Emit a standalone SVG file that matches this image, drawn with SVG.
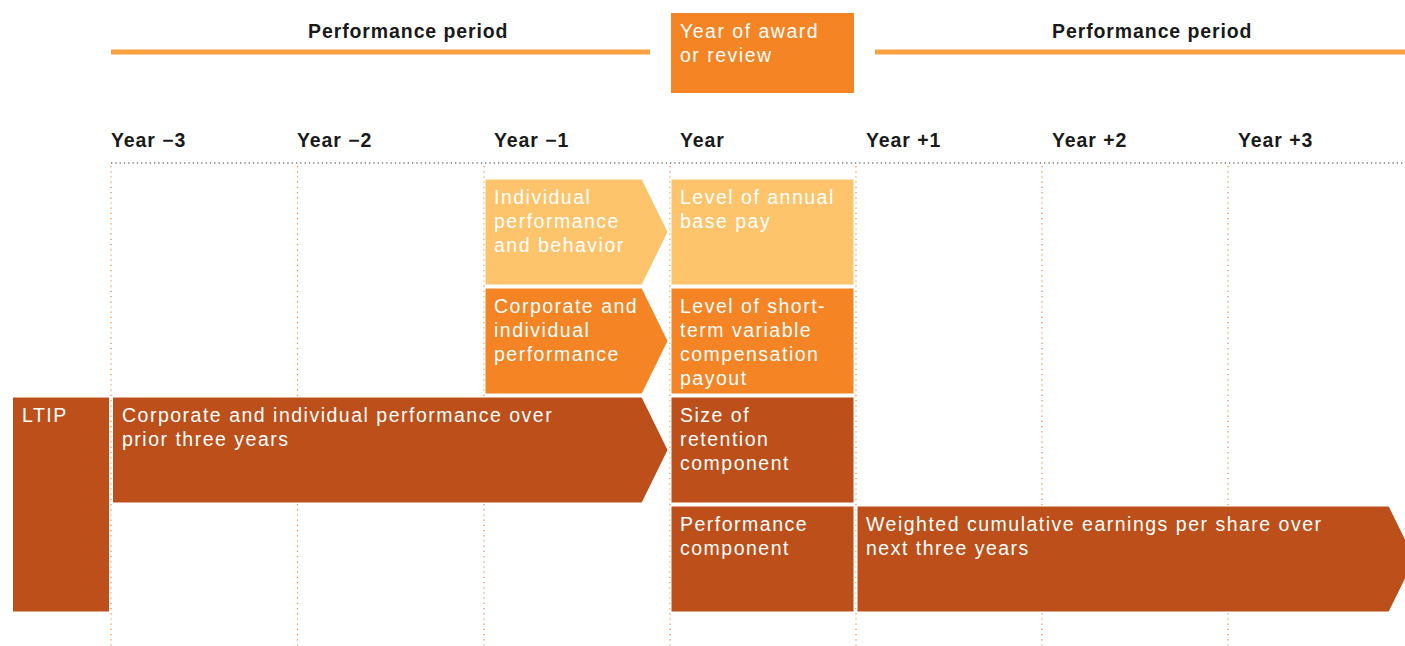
<svg xmlns="http://www.w3.org/2000/svg" width="1405" height="646" viewBox="0 0 1405 646">
<style>
  .lbl { font-family: "Liberation Sans", Arial, sans-serif; font-size: 19.5px; font-weight: bold; fill: #1a1a1a; letter-spacing: 0.9px; }
  .wt { font-family: "Liberation Sans", Arial, sans-serif; font-size: 19.5px; fill: #ffffff; letter-spacing: 1.5px; }
  .vgrid { stroke: #F2832C; stroke-width: 1.2; stroke-dasharray: 1.2 4; fill: none; }
  .hgrid { stroke: #7a7a7a; stroke-width: 1.3; stroke-dasharray: 1.3 3; fill: none; }
  .band { fill: #F9A03F; }
  .light { fill: #FEC46B; stroke: #ffffff; stroke-width: 1; }
  .mid { fill: #F48424; stroke: #ffffff; stroke-width: 1; }
  .dark { fill: #BD501A; stroke: #ffffff; stroke-width: 1; }
</style>

<g id="grid">
  <line class="hgrid" x1="111" y1="163" x2="1405" y2="163"/>
  <line class="vgrid" x1="111" y1="166" x2="111" y2="646"/>
  <line class="vgrid" x1="297.5" y1="166" x2="297.5" y2="646"/>
  <line class="vgrid" x1="484" y1="166" x2="484" y2="646"/>
  <line class="vgrid" x1="670" y1="166" x2="670" y2="646"/>
  <line class="vgrid" x1="856" y1="166" x2="856" y2="646"/>
  <line class="vgrid" x1="1042" y1="166" x2="1042" y2="646"/>
  <line class="vgrid" x1="1228" y1="166" x2="1228" y2="646"/>
</g>

<g id="header">
  <rect class="band" x="111" y="49.5" width="539" height="5"/>
  <rect class="band" x="875" y="49.5" width="530" height="5"/>
  <text class="lbl" x="308" y="38">Performance period</text>
  <text class="lbl" x="1052" y="38">Performance period</text>
  <g id="award-box">
    <rect x="671" y="13" width="183" height="80" fill="#F48424"/>
    <text class="wt" x="680" y="38">Year of award</text>
    <text class="wt" x="680" y="62">or review</text>
  </g>
</g>

<g id="years">
  <text class="lbl" x="111" y="147">Year −3</text>
  <text class="lbl" x="297" y="147">Year −2</text>
  <text class="lbl" x="494" y="147">Year −1</text>
  <text class="lbl" x="680" y="147">Year</text>
  <text class="lbl" x="866" y="147">Year +1</text>
  <text class="lbl" x="1052" y="147">Year +2</text>
  <text class="lbl" x="1238" y="147">Year +3</text>
</g>

<g id="row1-arrow">
  <polygon class="light" points="485,179 642,179 668,232 642,285 485,285"/>
  <text class="wt" x="494" y="204">Individual</text>
  <text class="wt" x="494" y="228">performance</text>
  <text class="wt" x="494" y="252">and behavior</text>
</g>
<g id="row1-box">
  <rect class="light" x="671" y="179" width="183" height="106"/>
  <text class="wt" x="680" y="204">Level of annual</text>
  <text class="wt" x="680" y="228">base pay</text>
</g>

<g id="row2-arrow">
  <polygon class="mid" points="485,288 642,288 668,341 642,394 485,394"/>
  <text class="wt" x="494" y="313">Corporate and</text>
  <text class="wt" x="494" y="337">individual</text>
  <text class="wt" x="494" y="361">performance</text>
</g>
<g id="row2-box">
  <rect class="mid" x="671" y="288" width="183" height="106"/>
  <text class="wt" x="680" y="313">Level of short-</text>
  <text class="wt" x="680" y="337">term variable</text>
  <text class="wt" x="680" y="361">compensation</text>
  <text class="wt" x="680" y="385">payout</text>
</g>

<g id="ltip">
  <rect class="dark" x="12.5" y="397" width="97" height="215"/>
  <text class="wt" x="22" y="422">LTIP</text>
</g>

<g id="row3-arrow">
  <polygon class="dark" points="112.5,397 642,397 668,450 642,503 112.5,503"/>
  <text class="wt" x="122" y="422">Corporate and individual performance over</text>
  <text class="wt" x="122" y="446">prior three years</text>
</g>
<g id="row3-box">
  <rect class="dark" x="671" y="397" width="183" height="106"/>
  <text class="wt" x="680" y="422">Size of</text>
  <text class="wt" x="680" y="446">retention</text>
  <text class="wt" x="680" y="470">component</text>
</g>

<g id="row4-box">
  <rect class="dark" x="671" y="506" width="183" height="106"/>
  <text class="wt" x="680" y="531">Performance</text>
  <text class="wt" x="680" y="555">component</text>
</g>
<g id="row4-arrow">
  <polygon class="dark" points="857,506 1389,506 1415,559 1389,612 857,612"/>
  <text class="wt" x="866" y="531">Weighted cumulative earnings per share over</text>
  <text class="wt" x="866" y="555">next three years</text>
</g>

<g id="connectors"></g>
</svg>
